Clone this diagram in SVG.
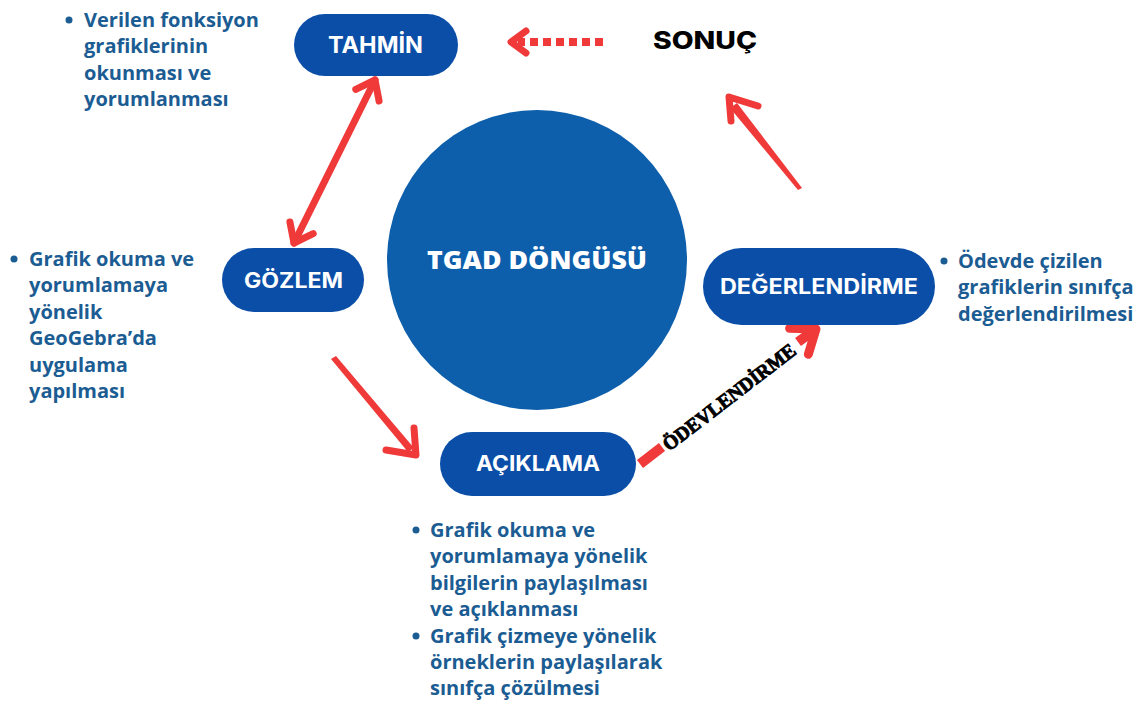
<svg xmlns="http://www.w3.org/2000/svg" width="1135" height="702" viewBox="0 0 1135 702">
<style>
.pill{fill:#0a4ea7}
.lbl{font-family:Inter,"Open Sans",sans-serif;font-weight:700;fill:#fff;text-anchor:middle}
.bt{font-family:"Open Sans","Noto Sans",sans-serif;font-weight:700;font-size:20px;fill:#1b5c93}
.bul{fill:#1b5c93}
.ar{fill:none;stroke:#f03a3a;stroke-width:7;stroke-linecap:round;stroke-linejoin:round}
</style>
<defs>
<marker id="ah" markerUnits="userSpaceOnUse" markerWidth="40" markerHeight="40" viewBox="-25 -20 40 40" refX="0" refY="0" orient="auto-start-reverse">
<path d="M-17,-13 L0,0 L-17,13" fill="none" stroke="#f03a3a" stroke-width="7" stroke-linecap="round" stroke-linejoin="round"/>
</marker>
<marker id="ahb" markerUnits="userSpaceOnUse" markerWidth="50" markerHeight="50" viewBox="-30 -25 50 50" refX="0" refY="0" orient="auto">
<path d="M-21,-16 L0,0 L-21,16" fill="none" stroke="#f03a3a" stroke-width="9" stroke-linecap="round" stroke-linejoin="round"/>
</marker>
</defs>
<rect width="1135" height="702" fill="#fff"/>

<g id="connectors">
<line class="ar" x1="294" y1="243" x2="375" y2="80" marker-start="url(#ah)" marker-end="url(#ah)"/>
<polygon points="331,359 336,356 414,448 408,452" fill="#f03a3a"/>
<path class="ar" d="M386,450 L416,455 L414,428"/>
<polygon points="798,190 802,188 737,103 730,108" fill="#f03a3a"/>
<path class="ar" d="M731,121 L729,97 L758,106"/>
<line x1="603" y1="42" x2="518" y2="42" stroke="#f03a3a" stroke-width="8" stroke-dasharray="8 5"/>
<path class="ar" d="M526,31 L511,42 L526,53"/>
<line x1="640" y1="464" x2="662" y2="447" stroke="#f03a3a" stroke-width="10" stroke-linecap="butt"/>
<line x1="798" y1="342" x2="816" y2="329" stroke="#f03a3a" stroke-width="10" marker-end="url(#ahb)"/>
<text x="0" y="0" transform="translate(729,397) rotate(-37.5)" font-family="'Liberation Serif',serif" font-weight="700" font-size="20" text-anchor="middle" dominant-baseline="central" textLength="162" lengthAdjust="spacingAndGlyphs" fill="#000" stroke="#000" stroke-width="0.9">ÖDEVLENDİRME</text>
</g>

<g id="cycle">
<circle cx="537" cy="260" r="150" fill="#0d5eab"/>
<text x="537" y="269" font-family="'Open Sans',sans-serif" font-weight="800" font-size="24" fill="#fff" text-anchor="middle" textLength="220" lengthAdjust="spacingAndGlyphs">TGAD DÖNGÜSÜ</text>
</g>

<g id="tahmin">
<rect class="pill" x="294" y="14" width="164" height="62" rx="31"/>
<text class="lbl" x="375.5" y="53" font-size="23" textLength="95" lengthAdjust="spacingAndGlyphs">TAHMİN</text>
</g>

<g id="sonuc">
<text x="705" y="49" font-family="Inter,sans-serif" font-weight="800" font-size="24" text-anchor="middle" fill="#000" textLength="104" lengthAdjust="spacingAndGlyphs">SONUÇ</text>
</g>

<g id="gozlem">
<rect class="pill" x="222" y="248" width="142" height="64" rx="32"/>
<text class="lbl" x="293.5" y="288" font-size="21" textLength="99" lengthAdjust="spacingAndGlyphs">GÖZLEM</text>
</g>

<g id="degerlendirme">
<rect class="pill" x="703" y="248" width="232" height="77" rx="38.5"/>
<text class="lbl" x="819" y="294" font-size="21" textLength="198" lengthAdjust="spacingAndGlyphs">DEĞERLENDİRME</text>
</g>

<g id="aciklama">
<rect class="pill" x="440" y="432" width="196" height="64" rx="32"/>
<text class="lbl" x="538" y="471" font-size="21" textLength="124" lengthAdjust="spacingAndGlyphs">AÇIKLAMA</text>
</g>

<g id="note-tahmin">
<circle class="bul" cx="69" cy="20" r="3.5"/>
<text class="bt"><tspan x="84" y="27">Verilen fonksiyon</tspan><tspan x="84" y="53.4">grafiklerinin</tspan><tspan x="84" y="79.8">okunması ve</tspan><tspan x="84" y="106.2">yorumlanması</tspan></text>
</g>

<g id="note-gozlem">
<circle class="bul" cx="14" cy="259" r="3.5"/>
<text class="bt"><tspan x="29" y="266">Grafik okuma ve</tspan><tspan x="29" y="292.4">yorumlamaya</tspan><tspan x="29" y="318.8">yönelik</tspan><tspan x="29" y="345.2">GeoGebra’da</tspan><tspan x="29" y="371.6">uygulama</tspan><tspan x="29" y="398">yapılması</tspan></text>
</g>

<g id="note-degerlendirme">
<circle class="bul" cx="944" cy="261" r="3.5"/>
<text class="bt"><tspan x="958" y="268">Ödevde çizilen</tspan><tspan x="958" y="294.4">grafiklerin sınıfça</tspan><tspan x="958" y="320.8">değerlendirilmesi</tspan></text>
</g>

<g id="note-aciklama">
<circle class="bul" cx="416" cy="530" r="3.5"/>
<circle class="bul" cx="416" cy="636" r="3.5"/>
<text class="bt"><tspan x="430" y="537">Grafik okuma ve</tspan><tspan x="430" y="563.4">yorumlamaya yönelik</tspan><tspan x="430" y="589.8">bilgilerin paylaşılması</tspan><tspan x="430" y="616.2">ve açıklanması</tspan><tspan x="430" y="642.6">Grafik çizmeye yönelik</tspan><tspan x="430" y="669">örneklerin paylaşılarak</tspan><tspan x="430" y="695.4">sınıfça çözülmesi</tspan></text>
</g>
</svg>
